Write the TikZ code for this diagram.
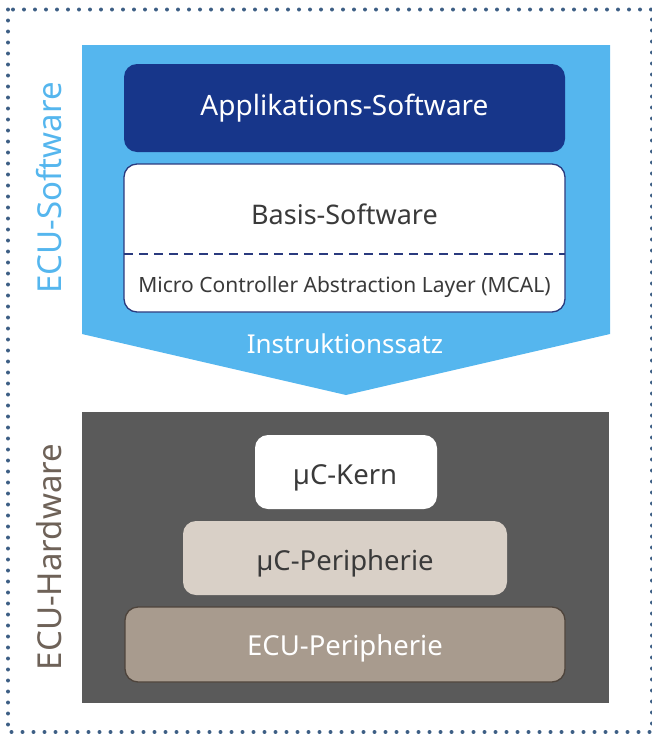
\documentclass[tikz,border=0pt]{standalone}
\usepackage{fontspec}
\setmainfont{Noto Sans}
\definecolor{lightblue}{HTML}{55B6EE}
\definecolor{darkblue}{HTML}{17368A}
\definecolor{navy}{HTML}{2A3A7E}
\definecolor{hwgray}{HTML}{5A5A5A}
\definecolor{txtgray}{HTML}{3A3A3A}
\definecolor{periA}{HTML}{D9D0C7}
\definecolor{periB}{HTML}{A89B8E}
\definecolor{periBorder}{HTML}{4E443C}
\definecolor{hwlabel}{HTML}{6E6258}
\definecolor{dotcol}{HTML}{3D5F85}
\tikzset{
  box/.style={rounded corners=13pt, inner sep=0pt},
  lbl/.style={inner sep=0pt, text depth=0pt},
  fbig/.style={font=\fontsize{28}{32}\selectfont, text height=20pt, text depth=0pt},
  fmid/.style={font=\fontsize{27}{32}\selectfont, text height=19.3pt, text depth=0pt},
  finstr/.style={font=\fontsize{26}{30}\selectfont, text height=18.6pt, text depth=0pt},
  fsmall/.style={font=\fontsize{21}{25}\selectfont, text height=15pt, text depth=0pt},
  fhw/.style={font=\fontsize{27.5}{32}\selectfont, text height=19.6pt, text depth=0pt},
  sidelabel/.style={rotate=90, inner sep=0pt, font=\fontsize{33}{38}\selectfont, text height=23.6pt, text depth=0pt}
}
\begin{document}
\begin{tikzpicture}[x=1pt,y=-1pt]
\useasboundingbox (0,0) rectangle (651,734);
% dotted frame
\draw[dotcol, line width=4pt, line cap=round, dash pattern=on 0pt off 11pt] (8,9.5) rectangle (652,732);
% software arrow
\fill[lightblue] (82,45) -- (610,45) -- (610,334) -- (346,395) -- (82,334) -- cycle;
% hardware block
\node[fill=hwgray, minimum width=527pt, minimum height=291pt, inner sep=0pt, anchor=north west] (hw) at (82,412) {};
% application
\node[box, fill=darkblue, minimum width=441pt, minimum height=88pt] (app) at (344.5,108) {};
\node[lbl, fbig, text=white] (apptxt) at (344.5,105) {Applikations-Software};
% basis
\node[box, fill=white, draw=navy, line width=1.3pt, minimum width=441pt, minimum height=148pt] (basis) at (344.5,238) {};
\node[lbl, fmid, text=txtgray] (basistxt) at (344.5,214.5) {Basis-Software};
\coordinate (dl) at (124,254);
\coordinate (dr) at (565,254);
\draw[navy, line width=2.4pt, dash pattern=on 9pt off 6pt] (dl) -- (dr);
\node[lbl, fsmall, text=txtgray] (mcal) at (344.5,285) {Micro Controller Abstraction Layer (MCAL)};
\node[lbl, finstr, text=white] (instr) at (345,344.5) {Instruktionssatz};
% hardware
\node[box, fill=white, minimum width=182pt, minimum height=74pt] (kern) at (346,472) {};
\node[lbl, fhw, text=txtgray] (kerntxt) at (345,475) {µC-Kern};
\node[box, fill=periA, minimum width=324pt, minimum height=74pt] (uperi) at (345,558) {};
\node[lbl, fhw, text=txtgray] (uperitxt) at (345,561) {µC-Peripherie};
\node[box, fill=periB, draw=periBorder, line width=1.3pt, minimum width=440pt, minimum height=75pt] (eperi) at (345,644.5) {};
\node[lbl, fhw, text=white] (eperitxt) at (345,646) {ECU-Peripherie};
% side labels
\node[sidelabel, text=lightblue] (swlabel) at (50,188) {ECU-Software};
\node[sidelabel, text=hwlabel] (hwlabel) at (50,557) {ECU-Hardware};
\end{tikzpicture}
\end{document}
